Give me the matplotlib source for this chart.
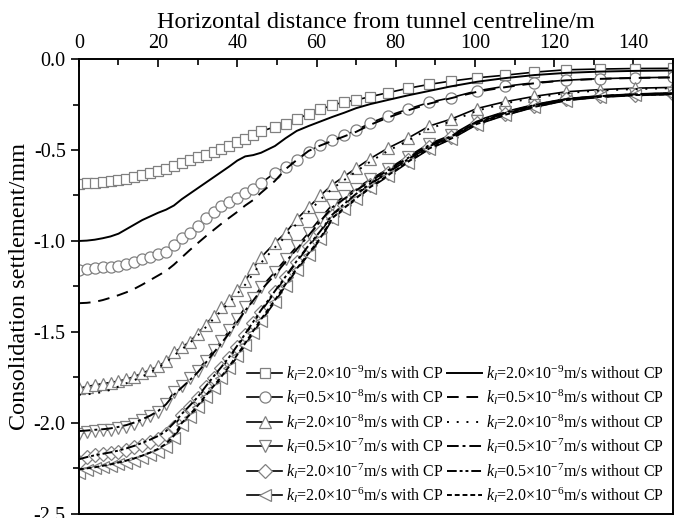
import matplotlib
matplotlib.use("Agg")
import matplotlib.pyplot as plt
from matplotlib.ticker import MultipleLocator, FormatStrFormatter

plt.rcParams['font.family'] = ['Liberation Serif', 'DejaVu Serif']
plt.rcParams['mathtext.fontset'] = 'custom'
plt.rcParams['mathtext.rm'] = 'Liberation Serif'
plt.rcParams['mathtext.it'] = 'Liberation Serif:italic'
plt.rcParams['axes.unicode_minus'] = False

# distance from centreline (m), shared mesh points
x = [0, 2, 4, 6, 8, 10, 12, 14, 16, 18, 20, 22, 24, 26, 28, 30, 32, 34, 36, 38, 40, 42, 44, 46,
     49.5, 52.2, 55, 58, 61, 64, 67, 70, 73.5, 78, 83, 88.5, 94, 100.5, 107.5, 115, 123, 131.5, 140.5, 150]

# with CP
s_2e9_cp = [-0.685, -0.683, -0.680, -0.677, -0.672, -0.665, -0.657, -0.648, -0.638, -0.628, -0.617, -0.603,
            -0.588, -0.571, -0.556, -0.540, -0.525, -0.509, -0.493, -0.476, -0.458, -0.437, -0.417, -0.398,
            -0.372, -0.355, -0.330, -0.302, -0.277, -0.253, -0.236, -0.225, -0.207, -0.185, -0.161, -0.139,
            -0.121, -0.103, -0.089, -0.072, -0.059, -0.055, -0.052, -0.051]
s_05e8_cp = [-1.158, -1.152, -1.146, -1.143, -1.141, -1.135, -1.128, -1.117, -1.100, -1.086, -1.072, -1.058,
             -1.020, -0.985, -0.955, -0.920, -0.876, -0.840, -0.808, -0.785, -0.762, -0.738, -0.715, -0.682,
             -0.625, -0.595, -0.553, -0.510, -0.470, -0.445, -0.418, -0.392, -0.352, -0.313, -0.276, -0.238,
             -0.212, -0.175, -0.150, -0.130, -0.116, -0.108, -0.103, -0.100]
s_2e8_cp = [-1.810, -1.800, -1.792, -1.784, -1.778, -1.770, -1.760, -1.745, -1.727, -1.708, -1.690, -1.660,
            -1.612, -1.585, -1.553, -1.510, -1.460, -1.410, -1.365, -1.322, -1.270, -1.220, -1.150, -1.090,
            -1.010, -0.955, -0.880, -0.815, -0.750, -0.690, -0.645, -0.600, -0.548, -0.490, -0.436, -0.368,
            -0.330, -0.272, -0.235, -0.205, -0.180, -0.168, -0.160, -0.156]
s_05e7_cp = [-2.060, -2.050, -2.042, -2.040, -2.038, -2.030, -2.020, -2.005, -1.985, -1.962, -1.938, -1.895,
             -1.830, -1.795, -1.755, -1.712, -1.658, -1.602, -1.550, -1.492, -1.430, -1.365, -1.312, -1.255,
             -1.170, -1.100, -1.030, -0.955, -0.875, -0.800, -0.755, -0.712, -0.662, -0.605, -0.537, -0.465,
             -0.418, -0.338, -0.290, -0.250, -0.218, -0.202, -0.192, -0.186]
s_2e7_cp = [-2.216, -2.190, -2.176, -2.170, -2.166, -2.158, -2.148, -2.135, -2.120, -2.105, -2.086, -2.060,
            -2.020, -1.955, -1.912, -1.865, -1.805, -1.752, -1.700, -1.645, -1.582, -1.517, -1.452, -1.388,
            -1.282, -1.200, -1.115, -1.030, -0.950, -0.860, -0.800, -0.745, -0.690, -0.625, -0.555, -0.482,
            -0.430, -0.350, -0.300, -0.258, -0.222, -0.205, -0.195, -0.190]
s_2e6_cp = [-2.277, -2.258, -2.248, -2.242, -2.238, -2.228, -2.218, -2.207, -2.195, -2.178, -2.160, -2.130,
            -2.085, -2.010, -1.965, -1.915, -1.860, -1.808, -1.755, -1.698, -1.635, -1.572, -1.505, -1.440,
            -1.335, -1.245, -1.160, -1.075, -0.990, -0.880, -0.825, -0.770, -0.710, -0.645, -0.570, -0.495,
            -0.440, -0.360, -0.310, -0.265, -0.228, -0.210, -0.200, -0.195]

# without CP
s_2e9_no = [-1.000, -0.998, -0.993, -0.985, -0.975, -0.960, -0.935, -0.910, -0.885, -0.865, -0.845, -0.828,
            -0.805, -0.770, -0.740, -0.710, -0.680, -0.650, -0.620, -0.590, -0.558, -0.535, -0.528, -0.515,
            -0.478, -0.435, -0.395, -0.368, -0.343, -0.318, -0.295, -0.270, -0.248, -0.225, -0.200, -0.175,
            -0.150, -0.125, -0.105, -0.088, -0.076, -0.069, -0.065, -0.063]
s_05e8_no = [-1.342, -1.340, -1.335, -1.325, -1.312, -1.298, -1.282, -1.263, -1.240, -1.215, -1.190, -1.165,
             -1.130, -1.090, -1.050, -1.012, -0.975, -0.940, -0.905, -0.872, -0.840, -0.805, -0.775, -0.735,
             -0.670, -0.605, -0.555, -0.505, -0.475, -0.450, -0.425, -0.400, -0.362, -0.322, -0.283, -0.245,
             -0.215, -0.180, -0.155, -0.133, -0.117, -0.109, -0.104, -0.101]
s_2e8_no = [-1.845, -1.843, -1.838, -1.830, -1.818, -1.800, -1.782, -1.765, -1.745, -1.722, -1.697, -1.668,
            -1.630, -1.595, -1.560, -1.520, -1.475, -1.428, -1.382, -1.337, -1.290, -1.240, -1.180, -1.120,
            -1.035, -0.975, -0.905, -0.840, -0.772, -0.712, -0.665, -0.618, -0.565, -0.505, -0.450, -0.382,
            -0.342, -0.284, -0.244, -0.213, -0.187, -0.173, -0.165, -0.160]
s_05e7_no = [-2.045, -2.042, -2.038, -2.035, -2.030, -2.022, -2.012, -1.998, -1.980, -1.960, -1.935, -1.898,
             -1.845, -1.805, -1.765, -1.722, -1.670, -1.615, -1.562, -1.505, -1.445, -1.382, -1.328, -1.270,
             -1.185, -1.115, -1.045, -0.970, -0.890, -0.815, -0.768, -0.722, -0.672, -0.612, -0.545, -0.472,
             -0.424, -0.343, -0.294, -0.253, -0.220, -0.204, -0.194, -0.188]
s_2e7_no = [-2.200, -2.188, -2.178, -2.170, -2.162, -2.152, -2.140, -2.126, -2.110, -2.092, -2.072, -2.045,
            -2.000, -1.950, -1.905, -1.858, -1.800, -1.745, -1.692, -1.637, -1.575, -1.510, -1.445, -1.380,
            -1.275, -1.195, -1.110, -1.025, -0.945, -0.855, -0.796, -0.741, -0.686, -0.621, -0.552, -0.479,
            -0.428, -0.348, -0.298, -0.256, -0.221, -0.204, -0.194, -0.189]
s_2e6_no = [-2.255, -2.250, -2.244, -2.236, -2.228, -2.218, -2.207, -2.195, -2.180, -2.163, -2.143, -2.115,
            -2.070, -2.000, -1.955, -1.905, -1.850, -1.798, -1.745, -1.688, -1.625, -1.562, -1.495, -1.430,
            -1.325, -1.237, -1.152, -1.068, -0.983, -0.874, -0.819, -0.765, -0.705, -0.640, -0.566, -0.491,
            -0.437, -0.357, -0.307, -0.263, -0.226, -0.208, -0.198, -0.193]

cp_series = [s_2e9_cp, s_05e8_cp, s_2e8_cp, s_05e7_cp, s_2e7_cp, s_2e6_cp]
no_series = [s_2e9_no, s_05e8_no, s_2e8_no, s_05e7_no, s_2e7_no, s_2e6_no]
cp_labels = [r'$k_l$=2.0×10$^{-9}$m/s with CP', r'$k_l$=0.5×10$^{-8}$m/s with CP',
             r'$k_l$=2.0×10$^{-8}$m/s with CP', r'$k_l$=0.5×10$^{-7}$m/s with CP',
             r'$k_l$=2.0×10$^{-7}$m/s with CP', r'$k_l$=2.0×10$^{-6}$m/s with CP']
no_labels = [r'$k_l$=2.0×10$^{-9}$m/s without CP', r'$k_l$=0.5×10$^{-8}$m/s without CP',
             r'$k_l$=2.0×10$^{-8}$m/s without CP', r'$k_l$=0.5×10$^{-7}$m/s without CP',
             r'$k_l$=0.5×10$^{-7}$m/s without CP', r'$k_l$=2.0×10$^{-6}$m/s without CP']

markers = ['s', 'o', '^', 'v', 'D', '<']
msizes = [7.5, 8, 8.5, 8.5, 7, 8.5]
styles = ['-', (0, (6, 4)), (0, (1, 4)), (0, (6, 2, 1.5, 2)), (0, (5, 1.5, 1.5, 1.5, 1.5, 1.5)), (0, (2.5, 1.5))]

fig = plt.figure(figsize=(6.86, 5.18), dpi=100)
ax = fig.add_axes([0.115, 0.008, 0.866, 0.878])

handles = []
for ys, mk, ms, lab in zip(cp_series, markers, msizes, cp_labels):
    h, = ax.plot(x, ys, color='black', lw=1.2, marker=mk, ms=ms, mfc='white',
                 mec='#808080', mew=0.9, label=lab)
    handles.append(h)
for ys, ls, lab in zip(no_series, styles, no_labels):
    h, = ax.plot(x, ys, color='black', lw=1.4, linestyle=ls, label=lab)
    handles.append(h)

ax.set_xlim(0, 150)
ax.set_ylim(-2.5, 0.0)
ax.xaxis.tick_top()
ax.xaxis.set_label_position('top')
ax.xaxis.set_major_locator(MultipleLocator(20))
ax.xaxis.set_minor_locator(MultipleLocator(10))
ax.yaxis.set_major_locator(MultipleLocator(0.5))
ax.yaxis.set_minor_locator(MultipleLocator(0.25))
ax.yaxis.set_major_formatter(FormatStrFormatter('%.1f'))
ax.tick_params(axis='x', which='both', direction='in', labelsize=14.5, pad=4)
ax.tick_params(axis='x', which='major', length=6, width=1.2)
ax.tick_params(axis='x', which='minor', length=4, width=1.2)
ax.tick_params(axis='y', which='both', direction='out', labelsize=14.5, right=False)
ax.tick_params(axis='y', which='major', length=6, width=1.2)
ax.tick_params(axis='y', which='minor', length=4, width=1.2)
for sp in ax.spines.values():
    sp.set_linewidth(1.4)

ax.set_xlabel('Horizontal distance from tunnel centreline/m', fontsize=17.5, labelpad=5)
ax.set_ylabel('Consolidation settlement/mm', fontsize=17.5, labelpad=3)

ax.legend(handles=handles, ncol=2, loc='lower right', bbox_to_anchor=(1.0, 0.0),
          frameon=False, fontsize=11.5, handlelength=2.2, handletextpad=0.25,
          columnspacing=0.2, labelspacing=0.3, borderaxespad=0.15)

fig.savefig('out.png', dpi=100)
